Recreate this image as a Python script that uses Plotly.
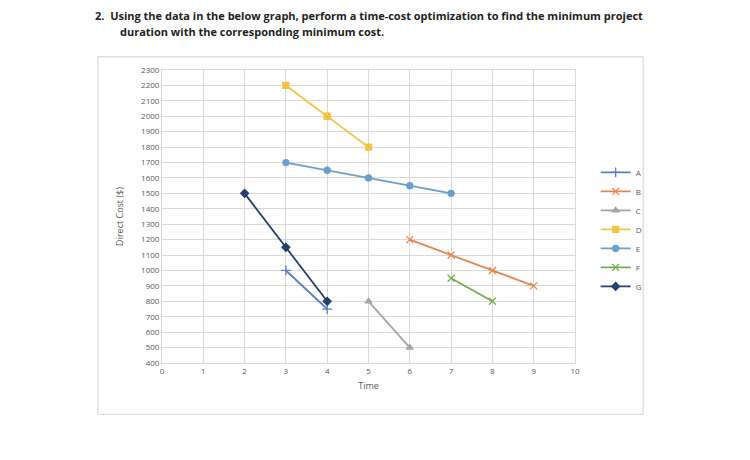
import plotly.graph_objects as go

# series data
a_x, a_y = [3, 4], [1000, 750]
b_x, b_y = [6, 7, 8, 9], [1200, 1100, 1000, 900]
c_x, c_y = [5, 6], [800, 500]
d_x, d_y = [3, 4, 5], [2200, 2000, 1800]
e_x, e_y = [3, 4, 5, 6, 7], [1700, 1650, 1600, 1550, 1500]
f_x, f_y = [7, 8], [950, 800]
g_x, g_y = [2, 3, 4], [1500, 1150, 800]

series = [
    ('A', a_x, a_y, '#5B7FBF', 'cross-thin', 7),
    ('B', b_x, b_y, '#E8874A', 'x-thin', 7),
    ('C', c_x, c_y, '#A5A5A5', 'triangle-up', 6),
    ('D', d_x, d_y, '#F5C342', 'square', 6),
    ('E', e_x, e_y, '#6A9FCF', 'circle', 6),
    ('F', f_x, f_y, '#72AF4F', 'x-thin', 7),
    ('G', g_x, g_y, '#24406B', 'diamond', 6),
]

fig = go.Figure()
for name, x, y, col, sym, sz in series:
    fig.add_trace(go.Scatter(
        x=x, y=y, name=name, mode='lines+markers',
        line=dict(color=col, width=1.8),
        marker=dict(symbol=sym, size=sz, color=col, line=dict(color=col, width=1.3))
    ))

grid = dict(showgrid=True, gridcolor='#D9D9D9', gridwidth=1, zeroline=False,
            showline=True, linecolor='#D9D9D9', mirror=True, automargin=False,
            tickfont=dict(size=8, color='#595959'))

fig.update_xaxes(range=[0, 10], dtick=1, title=dict(text='Time', font=dict(size=9, color='#595959'), standoff=8), **grid)
fig.update_yaxes(range=[400, 2300], dtick=100, title=dict(text='Direct Cost ($)', font=dict(size=9, color='#595959')), **grid)

fig.update_layout(
    width=750, height=460,
    margin=dict(l=154, r=183, t=62, b=105, autoexpand=False),
    paper_bgcolor='white', plot_bgcolor='white',
    font=dict(family='Open Sans', color='#595959'),
    legend=dict(x=1.05, y=0.7, yanchor='top', font=dict(size=8), tracegroupgap=6,
                itemwidth=30, bgcolor='rgba(0,0,0,0)'),
    shapes=[dict(type='rect', xref='paper', yref='paper',
                 x0=-0.155, x1=1.165, y0=-0.175, y1=1.045,
                 line=dict(color='#D0D0D0', width=1))],
    annotations=[
        dict(text='<b>2.  Using the data in the below graph, perform a time-cost optimization to find the minimum project</b>',
             xref='paper', yref='paper', x=-0.166, y=1.22, xanchor='left', showarrow=False,
             font=dict(size=11, color='#222222')),
        dict(text='<b>duration with the corresponding minimum cost.</b>',
             xref='paper', yref='paper', x=-0.107, y=1.165, xanchor='left', showarrow=False,
             font=dict(size=11, color='#222222')),
    ],
)

fig.write_html("out.html")
